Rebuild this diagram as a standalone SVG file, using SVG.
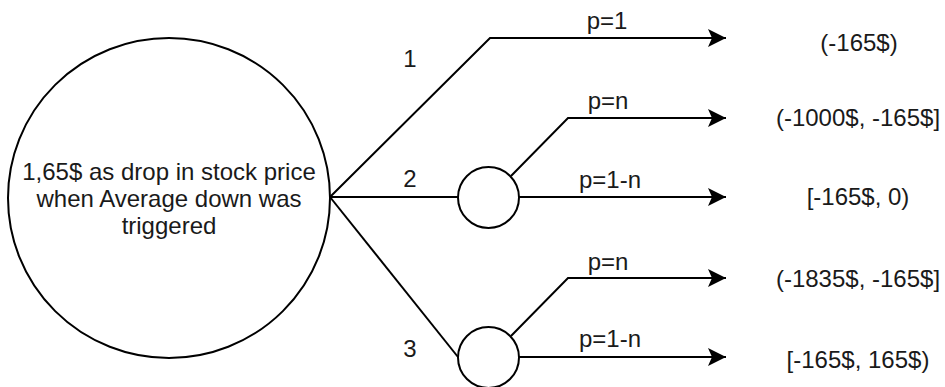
<svg xmlns="http://www.w3.org/2000/svg" width="945" height="387" viewBox="0 0 945 387">
<defs>
<marker id="arr" markerWidth="19" markerHeight="18" refX="18" refY="9" orient="auto" markerUnits="userSpaceOnUse">
<path d="M0,0 L18,9 L0,18 L4,9 Z" fill="#000"/>
</marker>
<style>
.t{font-family:"Liberation Sans",Arial,sans-serif;font-size:24px;fill:#1a1a1a;text-anchor:middle}
.n{fill:#fff;stroke:#000;stroke-width:2}
.c{fill:none;stroke:#000;stroke-width:2}
</style>
</defs>
<rect width="945" height="387" fill="#fff"/>
<g id="connectors">
<polyline class="c" points="330,197 490,38 726,38" marker-end="url(#arr)"/>
<line class="c" x1="330" y1="197" x2="458" y2="197"/>
<line class="c" x1="330" y1="197" x2="458" y2="357"/>
<polyline class="c" points="511,176 568,118 726,118" marker-end="url(#arr)"/>
<line class="c" x1="519" y1="197" x2="726" y2="197" marker-end="url(#arr)"/>
<polyline class="c" points="511,336 568,278 726,278" marker-end="url(#arr)"/>
<line class="c" x1="519" y1="357" x2="726" y2="357" marker-end="url(#arr)"/>
<text class="t" x="410" y="67">1</text>
<text class="t" x="410" y="187">2</text>
<text class="t" x="410" y="357">3</text>
<text class="t" x="607" y="29">p=1</text>
<text class="t" x="608" y="109">p=n</text>
<text class="t" x="610" y="188">p=1-n</text>
<text class="t" x="608" y="270">p=n</text>
<text class="t" x="610" y="347">p=1-n</text>
</g>
<g id="root">
<ellipse class="n" cx="169" cy="198" rx="161" ry="160"/>
<text class="t" x="169" y="180">1,65$ as drop in stock price</text>
<text class="t" x="169" y="207">when Average down was</text>
<text class="t" x="169" y="234">triggered</text>
</g>
<g id="chance2">
<circle class="n" cx="488.5" cy="197.5" r="30.5"/>
</g>
<g id="chance3">
<circle class="n" cx="488.5" cy="357.5" r="30.5"/>
</g>
<g id="out1"><text class="t" x="859" y="51">(-165$)</text></g>
<g id="out2"><text class="t" x="858" y="126">(-1000$, -165$]</text></g>
<g id="out3"><text class="t" x="858" y="205">[-165$, 0)</text></g>
<g id="out4"><text class="t" x="858" y="287">(-1835$, -165$]</text></g>
<g id="out5"><text class="t" x="858" y="368">[-165$, 165$)</text></g>
</svg>
